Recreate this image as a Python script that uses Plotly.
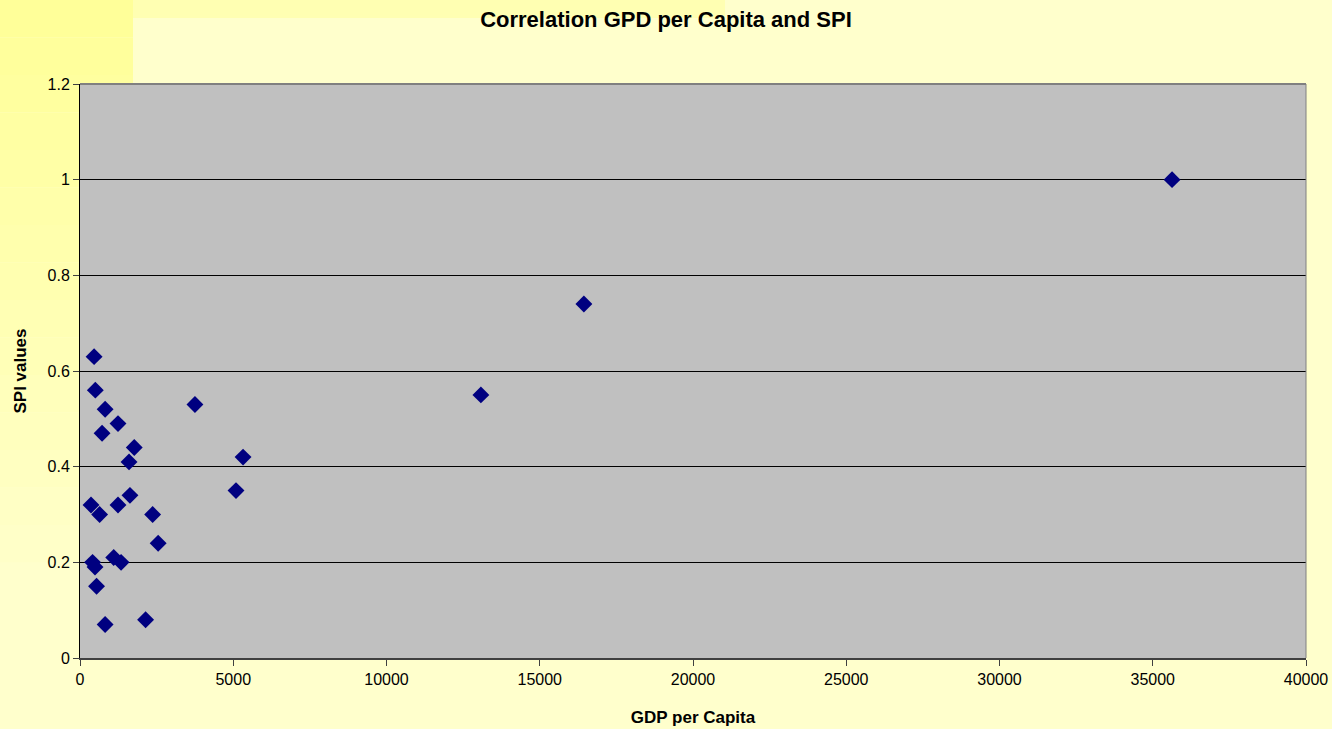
import plotly.graph_objects as go

# GDP per capita vs SPI
gdp_per_capita = [35630, 16440, 13080, 3750, 5320, 5090, 460, 500, 820, 1240,
                  720, 1770, 1600, 360, 640, 1630, 1240, 2370, 2550, 410,
                  490, 540, 1100, 1340, 820, 2140]
spi_values = [1.00, 0.74, 0.55, 0.53, 0.42, 0.35, 0.63, 0.56, 0.52, 0.49,
              0.47, 0.44, 0.41, 0.32, 0.30, 0.34, 0.32, 0.30, 0.24, 0.20,
              0.19, 0.15, 0.21, 0.20, 0.07, 0.08]

x_ticks = [0, 5000, 10000, 15000, 20000, 25000, 30000, 35000, 40000]
y_ticks = [0, 0.2, 0.4, 0.6, 0.8, 1, 1.2]

W, H = 1332, 729
L, R, T, B = 80, 26, 84, 71
pw, ph = W - L - R, H - T - B


def px_x(p):
    return (p - L) / pw


def px_y(p):
    return (H - B - p) / ph


fig = go.Figure()
fig.add_trace(go.Scatter(
    x=gdp_per_capita, y=spi_values, mode="markers",
    marker=dict(symbol="diamond", size=13, color="#000080",
                line=dict(width=0)),
    showlegend=False, cliponaxis=False,
))

# background: darker yellow strip on the left fading down, and a band along the top
shapes = []
bands = 16
top, bottom = 0, 600
for i in range(bands):
    y0 = top + (bottom - top) * i / bands
    y1 = top + (bottom - top) * (i + 1) / bands
    f = i / (bands - 1)
    b = int(153 + (204 - 153) * f)
    x1 = 133 if y1 <= T else L
    shapes.append(dict(type="rect", xref="paper", yref="paper", layer="below",
                       x0=px_x(0), x1=px_x(x1), y0=px_y(y1), y1=px_y(y0),
                       fillcolor=f"rgb(255,255,{b})", line=dict(width=0)))
    if y0 < T < y1:
        shapes.append(dict(type="rect", xref="paper", yref="paper", layer="below",
                           x0=px_x(L), x1=px_x(133), y0=px_y(T), y1=px_y(y0),
                           fillcolor=f"rgb(255,255,{b})", line=dict(width=0)))
shapes.append(dict(type="rect", xref="paper", yref="paper", layer="below",
                   x0=px_x(133), x1=px_x(725), y0=px_y(18), y1=px_y(0),
                   fillcolor="rgb(255,255,178)", line=dict(width=0)))
# grey top / right border of the plot area
shapes.append(dict(type="line", xref="paper", yref="paper", x0=0, x1=1, y0=1, y1=1,
                   line=dict(color="#808080", width=2)))
shapes.append(dict(type="line", xref="paper", yref="paper", x0=1, x1=1, y0=0, y1=1,
                   line=dict(color="#808080", width=1)))

fig.update_layout(
    width=W, height=H,
    margin=dict(l=L, r=R, t=T, b=B),
    paper_bgcolor="#FFFFCC",
    plot_bgcolor="#C0C0C0",
    font=dict(family="Liberation Sans, Arial", size=16, color="black"),
    title=dict(text="<b>Correlation GPD per Capita and SPI</b>",
               x=0.5, xref="container", xanchor="center",
               y=1 - 19 / H, yanchor="middle",
               font=dict(size=22)),
    shapes=shapes,
    xaxis=dict(range=[0, 40000], tickvals=x_ticks, tickformat="d",
               showgrid=False, zeroline=False, automargin=False,
               showline=True, linecolor="#404040", linewidth=2,
               ticks="outside", ticklen=6, tickcolor="#404040",
               title=dict(text="<b>GDP per Capita</b>", font=dict(size=17),
                          standoff=24)),
    yaxis=dict(range=[0, 1.2], tickvals=y_ticks,
               showgrid=True, gridcolor="black", gridwidth=1,
               zeroline=False, automargin=False,
               showline=True, linecolor="black", linewidth=1,
               ticks="outside", ticklen=6, tickcolor="#404040",
               title=dict(text="<b>SPI values</b>", font=dict(size=17),
                          standoff=16)),
)

fig.write_html("out.html", config={"displayModeBar": False},
               post_script="document.body.style.margin='0';document.body.style.overflow='hidden';")
